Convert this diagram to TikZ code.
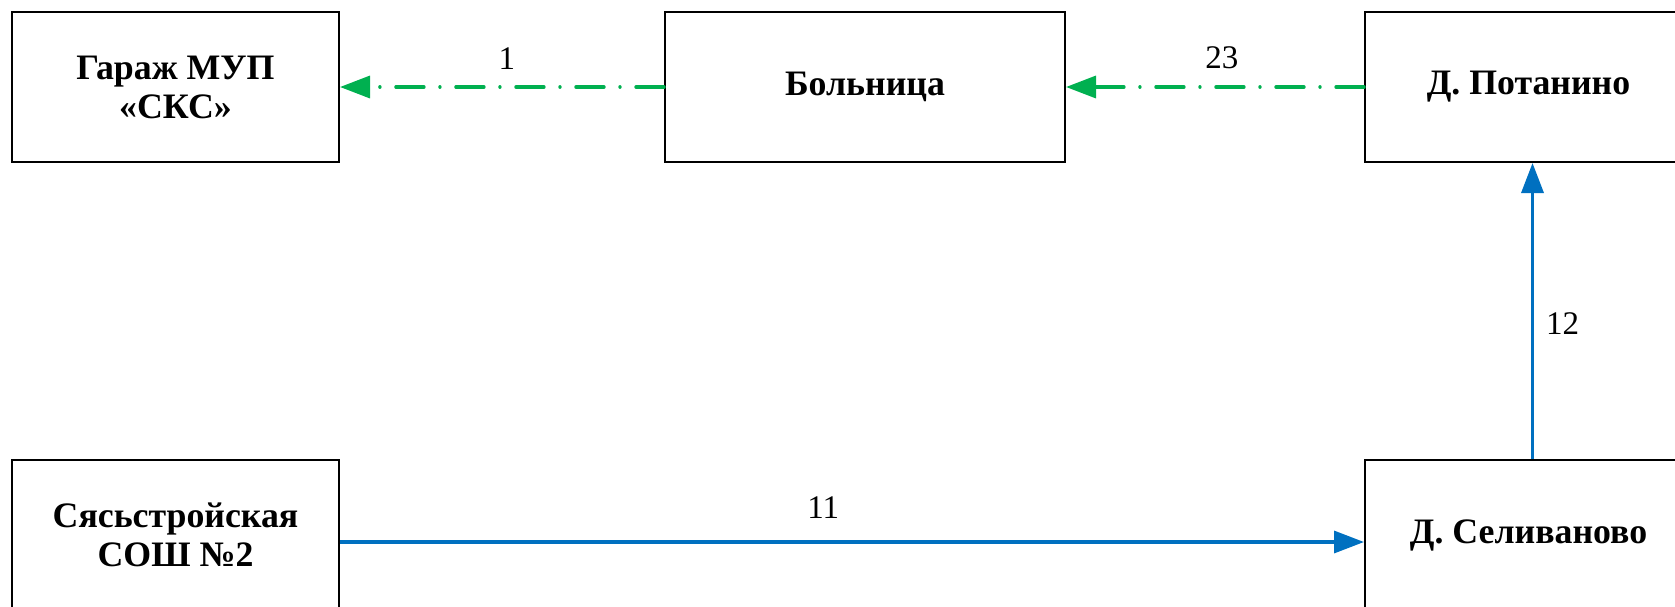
\documentclass[tikz,border=0pt]{standalone}
\usepackage{fontspec}
\setmainfont{Liberation Serif}
\usetikzlibrary{arrows.meta}
\definecolor{routegreen}{RGB}{0,176,80}
\definecolor{routeblue}{RGB}{0,112,192}
\tikzset{
	stop node/.style={rectangle,draw,line width=1pt,align=center,inner sep=0pt,
		minimum height=75pt,font=\fontsize{17.9pt}{19.5pt}\selectfont\bfseries},
	edge label/.style={inner sep=0pt,font=\fontsize{16.5pt}{19.5pt}\selectfont},
	green route/.style={draw=routegreen,line width=1.7pt,line cap=round,
		dash pattern=on 14pt off 8pt on 0.01pt off 8pt,
		-{Triangle[length=15pt,width=11pt,fill=routegreen]}},
	blue route/.style={draw=routeblue,line width=1.7pt,
		-{Triangle[length=15pt,width=11pt,fill=routeblue]}}
}

\begin{document}
\begin{tikzpicture}[x=0.5pt,y=-0.5pt]
	\useasboundingbox (0,0) rectangle (1675,606);
	\node [stop node,minimum width=163.5pt] (garage) at (175.5,87) {Гараж МУП\\«СКС»};
	\node [stop node,minimum width=200pt] (hospital) at (865,87) {Больница};
	\node [stop node,minimum width=163.5pt] (potanino) at (1528.5,87) {Д. Потанино};
	\node [stop node,minimum width=163.5pt] (school) at (175.5,535) {Сясьстройская\\СОШ №2};
	\node [stop node,minimum width=163.5pt] (selivanovo) at (1528.5,535) {Д. Селиваново};
	% routes
	\draw [green route] (hospital.west) -- node[pos=0.485,above=8pt,edge label] {1} (garage.east);
	\draw [green route] (potanino.west) -- node[pos=0.477,above=8pt,edge label] {23} (hospital.east);
	\draw [blue route] ([yshift=-3.5pt]school.east) -- node[pos=0.472,above=11pt,edge label] {11} ([yshift=-3.5pt]selivanovo.west);
	\draw [blue route] ([xshift=2pt]selivanovo.north) -- node[pos=0.456,right=6pt,edge label] {12} ([xshift=2pt]potanino.south);
\end{tikzpicture}
\end{document}
